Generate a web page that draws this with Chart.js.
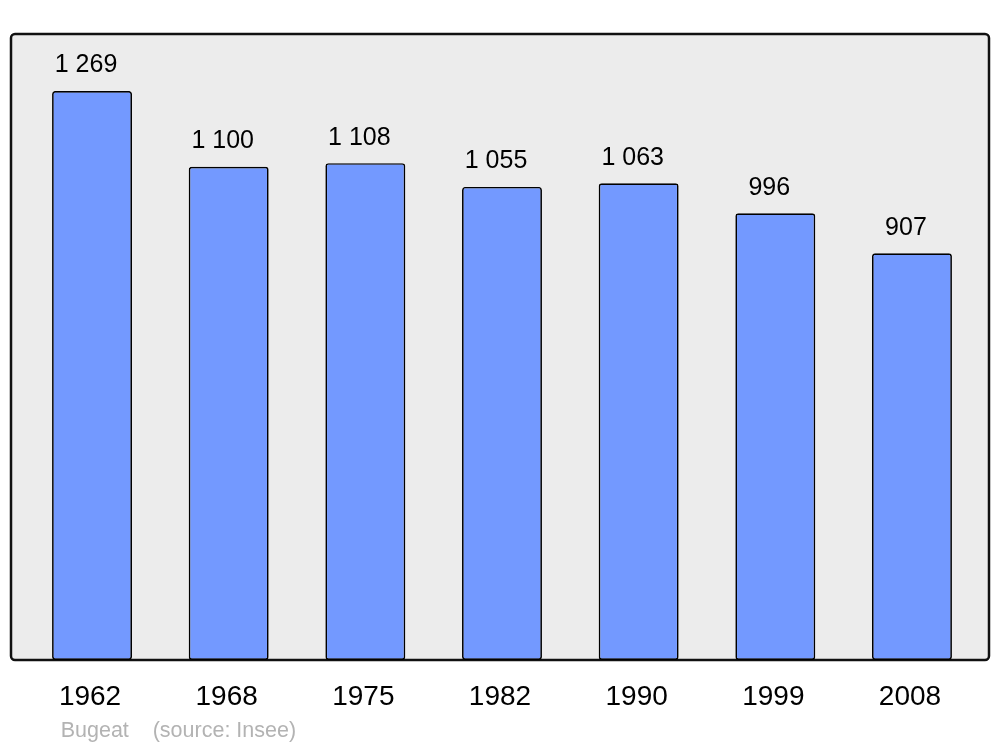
<!DOCTYPE html>
<html>
<head>
<meta charset="utf-8">
<script src="https://cdn.jsdelivr.net/npm/chart.js@4/dist/chart.umd.min.js"></script>
<style>
  html, body { margin: 0; padding: 0; background: #fff; }
  #wrap { width: 1000px; height: 747px; }
</style>
</head>
<body>
<div id="wrap"><canvas id="myChart" width="1000" height="747"></canvas></div>
<script>
var years = ['1962', '1968', '1975', '1982', '1990', '1999', '2008'];
var population = [1269, 1100, 1108, 1055, 1063, 996, 907];
var valueLabels = ['1 269', '1 100', '1 108', '1 055', '1 063', '996', '907'];
var footerName = 'Bugeat';
var footerSource = '(source: Insee)';

var fontFamily = '"Liberation Sans", Arial, sans-serif';

// grey panel with black rounded frame behind the bars
var framePlugin = {
    id: 'frame',
    beforeDraw: function (chart) {
        var ctx = chart.ctx;
        var a = chart.chartArea;
        var x0 = a.left - 12.7, x1 = a.right + 8.7;
        var y0 = a.top, y1 = a.bottom;
        ctx.save();
        ctx.beginPath();
        ctx.roundRect(x0, y0, x1 - x0, y1 - y0, 4);
        ctx.fillStyle = '#ececec';
        ctx.fill();
        ctx.lineWidth = 2.5;
        ctx.strokeStyle = '#111';
        ctx.stroke();
        ctx.restore();
    }
};

// value labels, year labels and footer
var textPlugin = {
    id: 'texts',
    afterDraw: function (chart) {
        var ctx = chart.ctx;
        var a = chart.chartArea;
        var meta = chart.getDatasetMeta(0);
        ctx.save();
        ctx.textAlign = 'center';
        ctx.textBaseline = 'middle';
        ctx.fillStyle = '#000';
        ctx.font = '25px ' + fontFamily;
        meta.data.forEach(function (bar, i) {
            ctx.fillText(valueLabels[i], bar.x - 6, bar.y - 25.5);
        });
        ctx.font = '28px ' + fontFamily;
        meta.data.forEach(function (bar, i) {
            ctx.fillText(years[i], bar.x - 2, a.bottom + 37);
        });
        ctx.textAlign = 'left';
        ctx.fillStyle = '#b3b3b3';
        ctx.font = '21.5px ' + fontFamily;
        ctx.fillText(footerName, a.left + 37, a.bottom + 71);
        ctx.fillText(footerSource, a.left + 129, a.bottom + 71);
        ctx.restore();
    }
};

var ctx = document.getElementById('myChart').getContext('2d');
var myChart = new Chart(ctx, {
    type: 'bar',
    data: {
        labels: years,
        datasets: [
            {
                label: 'Population',
                data: population,
                backgroundColor: '#7399ff',
                borderColor: '#000',
                borderWidth: 1.7,
                borderRadius: 3,
                borderSkipped: false,
                barPercentage: 0.585,
                categoryPercentage: 1
            }
        ]
    },
    options: {
        responsive: false,
        animation: false,
        layout: {
            padding: { left: 23.7, right: 19.7, top: 34, bottom: 87 }
        },
        plugins: {
            legend: { display: false },
            tooltip: { enabled: false },
            title: { display: false }
        },
        scales: {
            x: { display: false },
            y: { display: false, min: 0, max: 1396 }
        }
    },
    plugins: [framePlugin, textPlugin]
});
</script>
</body>
</html>
